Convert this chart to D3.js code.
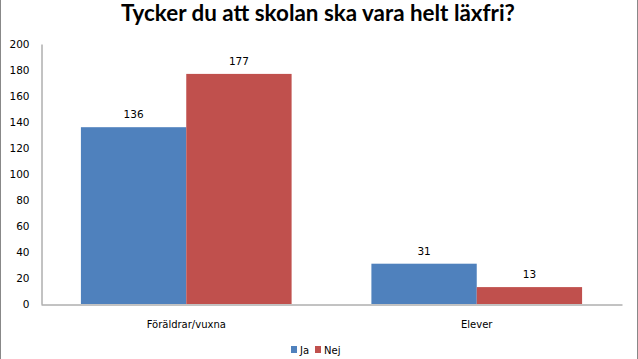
<!DOCTYPE html>
<html><head><meta charset="utf-8">
<script src="https://cdn.jsdelivr.net/npm/d3@7"></script>
<style>
html,body{margin:0;padding:0;background:#fff;}
svg{display:block;}
</style></head>
<body>
<svg id="chart" width="638" height="359"></svg>
<script>
const title = "Tycker du att skolan ska vara helt läxfri?";
const categories = ["Föräldrar/vuxna", "Elever"];
const seriesNames = ["Ja", "Nej"];
const jaValues = [136, 31];
const nejValues = [177, 13];
const yTicks = [0, 20, 40, 60, 80, 100, 120, 140, 160, 180, 200];
const colors = ["#4F81BD", "#C0504D"];

(function(){
const svg = d3.select("#chart");
const W = 638, H = 359;
const mLeft = 41, mRight = 622, mTop = 44, mBottom = 304;
const axisColor = "#868686";

// border lines
svg.append("line").attr("x1",0.5).attr("x2",0.5).attr("y1",0).attr("y2",H).attr("stroke","#888").attr("stroke-width",1);
svg.append("line").attr("x1",637.5).attr("x2",637.5).attr("y1",0).attr("y2",H).attr("stroke","#888").attr("stroke-width",1);

// title
const t = svg.append("text").attr("x", 318).attr("y", 21).attr("text-anchor","middle")
  .style("font-family","Lato, 'Open Sans', sans-serif").style("font-weight","bold").style("font-size","21px")
  .attr("fill","#000").text(title);
const tw = t.node().getComputedTextLength();
t.style("font-size", (21*394/tw).toFixed(2)+"px");

const x0 = d3.scaleBand().domain(categories).range([mLeft, mRight]).paddingInner(0.2747).paddingOuter(0.1374);
const x1 = d3.scaleBand().domain(seriesNames).range([0, x0.bandwidth()]);
const y = d3.scaleLinear().domain([0, 200]).range([mBottom, mTop]);

const data = categories.map((c,i)=>({cat:c, vals:[jaValues[i], nejValues[i]]}));

const g = svg.append("g");
data.forEach(d=>{
  d.vals.forEach((v,j)=>{
    const xs = x0(d.cat) + x1(seriesNames[j]);
    g.append("rect").attr("x", xs).attr("y", y(v)).attr("width", x1.bandwidth()).attr("height", y(0)-y(v)).attr("fill", colors[j]);
    g.append("text").attr("x", xs + x1.bandwidth()/2).attr("y", y(v)-9).attr("text-anchor","middle")
      .style("font-family","'DejaVu Sans', sans-serif").style("font-size","10.5px").attr("fill","#000").text(v);
  });
});

// y axis
const yAxis = d3.axisLeft(y).tickValues(yTicks).tickSize(0).tickPadding(12);
const ya = svg.append("g").attr("transform",`translate(${mLeft+0.5},0)`).call(yAxis);
ya.select(".domain").attr("stroke", axisColor);
ya.selectAll("text").style("font-family","'DejaVu Sans', sans-serif").style("font-size","10.5px").attr("fill","#000");

// x axis
const xAxis = d3.axisBottom(x0).tickSize(0).tickPadding(16);
const xa = svg.append("g").attr("transform",`translate(0,${mBottom+0.5})`).call(xAxis);
xa.select(".domain").attr("stroke", axisColor);
xa.selectAll("text").style("font-family","'DejaVu Sans', sans-serif").style("font-size","10px").attr("fill","#000");

// legend
const leg = svg.append("g");
const legX = [291, 315];
seriesNames.forEach((s,j)=>{
  leg.append("rect").attr("x", legX[j]).attr("y", 346).attr("width",6).attr("height",7).attr("fill",colors[j]);
  leg.append("text").attr("x", legX[j]+9).attr("y", 354).style("font-family","'DejaVu Sans', sans-serif").style("font-size","10px").attr("fill","#000").text(s);
});
})();
</script>
</body></html>
